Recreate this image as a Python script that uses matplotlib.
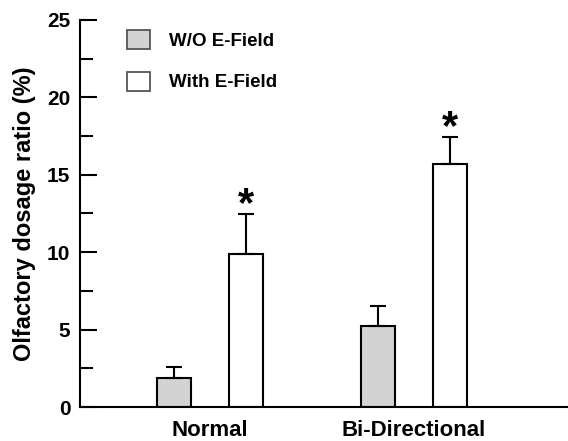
import numpy as np
import matplotlib.pyplot as plt
from matplotlib.patches import Patch
from matplotlib.ticker import MultipleLocator

plt.rcParams['font.family'] = ['Liberation Sans', 'DejaVu Sans']
plt.rcParams['font.weight'] = 'bold'

# data
groups = ['Normal', 'Bi-Directional']
wo_field = [1.87, 5.23]
wo_err = [0.71, 1.29]
with_field = [9.88, 15.7]
with_err = [2.59, 1.74]

x = np.arange(len(groups))
width = 0.17
offset = 0.176

fig = plt.figure(figsize=(5.68, 4.41), dpi=100)
ax = fig.add_axes([0.141, 0.077, 0.859, 0.878])

ekw = dict(ecolor='black', elinewidth=1.5, capsize=5.8, capthick=1.5)
ax.bar(x - offset, wo_field, width, color='#d3d3d3', edgecolor='black', linewidth=1.5,
       yerr=[np.zeros(2), wo_err], error_kw=ekw, label='W/O E-Field')
ax.bar(x + offset, with_field, width, color='white', edgecolor='black', linewidth=1.5,
       yerr=[np.zeros(2), with_err], error_kw=ekw, label='With E-Field')

# significance markers
for xi, v, e in zip(x + offset, with_field, with_err):
    ax.annotate('*', xy=(xi, v + e), xytext=(0, -1.5), textcoords='offset points',
                ha='center', va='baseline', fontsize=30, fontweight='bold')

ax.set_xlim(-0.637, 1.755)
ax.set_ylim(0, 25)
ax.yaxis.set_major_locator(MultipleLocator(5))
ax.yaxis.set_minor_locator(MultipleLocator(2.5))
ax.set_xticks(x)
ax.set_xticklabels(groups, fontsize=16, fontweight='bold')
ax.tick_params(axis='x', length=0, pad=9)
ax.tick_params(axis='y', which='major', direction='in', length=12, width=1.5, labelsize=15, pad=7)
ax.tick_params(axis='y', which='minor', direction='in', length=9, width=1.5)
for lbl in ax.get_yticklabels():
    lbl.set_fontweight('bold')

ax.spines['top'].set_visible(False)
ax.spines['right'].set_visible(False)
ax.spines['left'].set_linewidth(1.5)
ax.spines['bottom'].set_linewidth(1.5)

ax.set_ylabel('Olfactory dosage ratio (%)', fontsize=17, fontweight='bold', labelpad=8)

handles = [Patch(facecolor='#d3d3d3', edgecolor='#555555', linewidth=1.3, label='W/O E-Field'),
           Patch(facecolor='white', edgecolor='#555555', linewidth=1.3, label='With E-Field')]
fig.legend(handles=handles, loc='upper left', bbox_to_anchor=(127 / 568, 1 - 30 / 441), frameon=False,
           fontsize=13.5, handlelength=1.2, handleheight=1.2, handletextpad=1.05,
           labelspacing=1.15, borderpad=0, borderaxespad=0)

fig.savefig('out.png', dpi=100)
